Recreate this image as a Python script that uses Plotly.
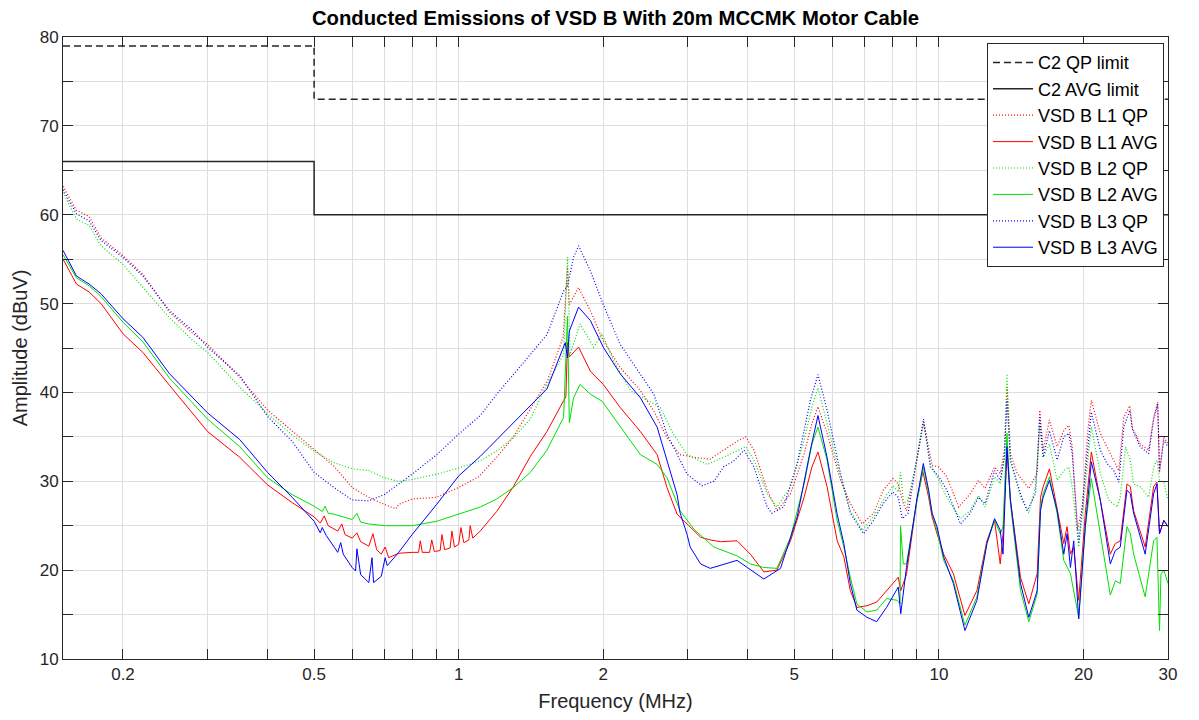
import plotly.graph_objects as go

# ---------------- data (MHz, dBuV) ----------------
qp_limit_f = [0.15, 0.5, 0.5, 30]
qp_limit_db = [79, 79, 73, 73]
avg_limit_f = [0.15, 0.5, 0.5, 30]
avg_limit_db = [66, 66, 60, 60]

l1_qp_f = [0.15, 0.16, 0.17, 0.18, 0.2, 0.22, 0.25, 0.28, 0.3, 0.35, 0.4, 0.45, 0.5, 0.55, 0.6, 0.65, 0.7, 0.74,
           0.75, 0.8, 0.9, 1.0, 1.1, 1.2, 1.3, 1.41, 1.53, 1.65, 1.685, 1.70, 1.777, 1.88, 2.0, 2.17, 2.39, 2.55,
           2.715, 2.89, 3.09, 3.34, 3.56, 3.80, 3.96, 4.12, 4.39, 4.60, 4.91, 5.24, 5.44, 5.60, 5.85, 6.24, 6.54,
           6.92, 7.31, 7.66, 8.02, 8.23, 8.43, 8.56, 9.0, 9.29, 9.68, 10.0, 10.39, 11.0, 11.62, 12.09, 12.48,
           13.06, 13.42, 13.69, 13.86, 14.09, 14.55, 15.39, 16.02, 16.22, 16.49, 16.99, 17.63, 18.2, 18.64,
           18.95, 19.43, 19.9, 20.4, 20.77, 21.68, 22.39, 23.13, 23.69, 24.27, 24.98, 25.27, 26.26, 27.34,
           28.0, 28.55, 28.8, 29.4, 30]
l1_qp_db = [63.2, 60.5, 59.8, 57.4, 55.4, 53.3, 49.0, 46.6, 45.4, 41.7, 38.0, 35.7, 33.6, 31.7, 29.3, 28.2, 27.4, 26.9,
            27.4, 28.0, 28.2, 29.3, 30.5, 32.7, 35.0, 38.2, 41.3, 46.2, 54.1, 49.9, 51.8, 49.2, 45.8, 42.8, 40.2, 37.9,
            34.9, 33.0, 32.7, 32.5, 33.5, 34.5, 35.0, 33.5, 29.0, 26.7, 28.6, 33.1, 36.5, 38.4, 35.4, 30.1, 27.5,
            25.2, 26.4, 29.0, 30.3, 29.7, 27.5, 26.7, 32.4, 36.7, 31.8, 31.6, 30.5, 27.1, 28.6, 30.1, 29.2,
            31.6, 30.9, 33.5, 40.6, 33.1, 30.9, 29.2, 30.9, 38.0, 33.5, 36.9, 33.9, 35.7, 36.3,
            33.9, 24.5, 27.1, 35.4, 39.1, 35.4, 33.9, 32.4, 31.2, 37.2, 38.5, 36.1, 34.2, 33.5,
            37.2, 38.9, 30.9, 35.0, 34.2]

l1_avg_f = [0.15, 0.16, 0.17, 0.18, 0.2, 0.22, 0.25, 0.28, 0.3, 0.35, 0.4, 0.45, 0.5, 0.515, 0.525, 0.535, 0.56,
            0.571, 0.58, 0.6, 0.614, 0.625, 0.65, 0.663, 0.675, 0.69, 0.703, 0.715, 0.75, 0.8, 0.825, 0.832, 0.84,
            0.87, 0.879, 0.89, 0.915, 0.923, 0.935, 0.96, 0.968, 0.98, 1.0, 1.011, 1.025, 1.05, 1.057, 1.07, 1.109,
            1.2, 1.3, 1.41, 1.527, 1.655, 1.672, 1.685, 1.70, 1.777, 1.88, 2.0, 2.17, 2.39, 2.59, 2.715, 2.85, 2.99,
            3.19, 3.34, 3.51, 3.80, 4.05, 4.32, 4.60, 4.91, 5.24, 5.44, 5.60, 5.85, 6.14, 6.34, 6.54, 6.75, 7.08,
            7.42, 7.78, 8.23, 8.33, 8.56, 9.0, 9.26, 9.52, 9.68, 9.91, 10.23, 10.72, 11.33, 12.0, 12.59, 13.06,
            13.42, 13.60, 13.86, 14.09, 14.79, 15.39, 16.02, 16.28, 16.49, 16.99, 17.63, 18.2, 18.49, 18.79, 19.09,
            19.55, 20.18, 20.77, 21.68, 22.75, 23.3, 23.86, 24.64, 25.04, 25.44, 26.89, 28.0, 28.45, 28.8, 29.4, 30]
l1_avg_db = [55.0, 52.2, 51.3, 50.0, 46.6, 44.5, 40.8, 37.5, 35.6, 32.7, 29.6, 27.6, 26.0, 25.3, 26.1, 25.0, 24.4,
             25.2, 24.0, 23.6, 24.2, 23.2, 22.7, 24.1, 22.3, 21.8, 22.6, 21.4, 21.9, 22.0, 22.0, 23.3, 22.0,
             22.0, 23.4, 22.1, 22.2, 24.0, 22.3, 22.5, 24.4, 22.6, 22.9, 24.8, 23.1, 23.4, 25.0, 23.6, 24.4,
             26.6, 29.4, 32.8, 35.6, 39.1, 39.5, 45.6, 44.0, 45.1, 42.4, 40.9, 38.3, 35.6, 33.0, 29.3, 26.3, 25.2,
             23.7, 23.4, 23.2, 23.3, 21.8, 19.8, 20.0, 23.3, 28.2, 31.6, 33.3, 29.4, 23.3, 21.5, 17.7, 15.8, 16.0,
             16.4, 17.7, 19.2, 17.7, 19.5, 27.9, 31.1, 28.2, 26.0, 24.1, 21.8, 19.6, 14.9, 17.7, 23.3, 25.6,
             20.7, 24.1, 33.5, 27.9, 19.2, 16.2, 19.6, 28.2, 29.4, 31.4, 27.1, 23.0, 24.9, 21.8, 22.6,
             16.6, 26.4, 33.3, 27.9, 21.8, 23.0, 23.3, 29.7, 29.4, 26.7, 22.6, 29.4, 29.9, 24.1, 25.6, 24.9]

l2_qp_f = [0.15, 0.16, 0.17, 0.18, 0.2, 0.22, 0.25, 0.28, 0.3, 0.35, 0.4, 0.45, 0.5, 0.55, 0.6, 0.65, 0.7, 0.75,
           0.8, 0.9, 1.0, 1.109, 1.2, 1.3, 1.41, 1.527, 1.654, 1.685, 1.707, 1.79, 1.91, 1.99, 2.10, 2.28, 2.47,
           2.63, 2.80, 2.99, 3.29, 3.56, 3.96, 4.12, 4.39, 4.60, 4.91, 5.24, 5.44, 5.60, 5.85, 6.24, 6.54, 6.92,
           7.31, 7.66, 8.02, 8.23, 8.32, 8.45, 8.63, 9.0, 9.29, 9.60, 10.0, 10.39, 11.09, 11.62, 12.09, 12.48,
           13.06, 13.42, 13.69, 13.86, 14.09, 14.79, 15.39, 15.89, 16.22, 16.49, 16.99, 17.63, 18.2, 18.64,
           18.95, 19.55, 20.18, 20.77, 21.68, 22.57, 23.5, 23.86, 24.47, 25.04, 25.44, 26.26, 27.34, 28.0,
           28.45, 28.8, 29.4, 30]
l2_qp_db = [62.5, 59.5, 58.8, 56.5, 54.4, 51.8, 48.4, 45.8, 44.5, 40.6, 37.6, 35.2, 33.4, 32.1, 31.4, 31.2, 30.4, 30.0,
            30.2, 30.8, 31.5, 32.3, 33.4, 34.9, 37.0, 40.9, 44.3, 55.2, 44.3, 47.7, 45.1, 46.6, 43.6, 40.2, 39.1,
            38.3, 35.3, 33.0, 31.9, 32.7, 33.9, 32.4, 28.6, 27.1, 29.4, 34.6, 38.4, 40.5, 36.5, 30.5, 26.7, 24.5,
            26.0, 27.9, 29.5, 28.8, 31.0, 27.5, 27.9, 32.5, 36.5, 32.0, 30.1, 28.2, 25.8, 26.7, 28.4, 27.1,
            30.5, 29.7, 32.7, 42.1, 32.4, 28.2, 26.4, 29.4, 36.1, 32.7, 34.2, 30.1, 31.2, 31.6,
            29.4, 22.6, 29.4, 36.1, 30.9, 27.9, 27.1, 28.2, 33.9, 32.4, 29.7, 29.4, 28.2, 31.6,
            32.4, 30.1, 29.9, 27.9]

l2_avg_f = [0.15, 0.16, 0.17, 0.18, 0.2, 0.22, 0.25, 0.28, 0.3, 0.35, 0.4, 0.45, 0.5, 0.52, 0.527, 0.535, 0.55,
            0.6, 0.614, 0.625, 0.65, 0.7, 0.8, 0.9, 1.0, 1.109, 1.2, 1.3, 1.41, 1.527, 1.654, 1.685, 1.70, 1.735,
            1.79, 1.88, 1.99, 2.17, 2.39, 2.59, 2.715, 2.89, 3.09, 3.40, 3.80, 4.05, 4.32, 4.60, 4.91, 5.24, 5.44,
            5.60, 5.85, 6.14, 6.34, 6.54, 6.75, 7.08, 7.42, 7.78, 8.2, 8.30, 8.32, 8.43, 8.56, 9.0, 9.29, 9.52,
            9.68, 9.91, 10.23, 10.72, 11.33, 12.0, 12.59, 13.06, 13.42, 13.60, 13.86, 14.09, 14.79, 15.39, 16.02,
            16.28, 16.49, 16.99, 17.63, 18.2, 18.79, 19.55, 20.18, 20.77, 21.68, 22.75, 23.3, 23.86, 24.64, 25.04,
            25.44, 26.89, 28.0, 28.45, 28.8, 29.0, 29.4, 30]
l2_avg_db = [55.5, 52.9, 52.0, 50.8, 47.9, 45.7, 41.6, 38.7, 37.0, 33.9, 30.4, 28.5, 27.2, 26.6, 27.2, 26.4, 26.3,
             25.7, 26.4, 25.4, 25.2, 25.0, 25.0, 25.5, 26.3, 27.1, 28.0, 29.3, 31.0, 33.5, 37.2, 48.6, 36.6, 39.4,
             40.9, 39.8, 39.0, 36.1, 33.0, 31.9, 30.4, 26.7, 24.6, 22.6, 21.6, 20.7, 20.3, 20.2, 23.7, 29.7, 34.2,
             36.1, 32.4, 25.6, 22.6, 19.2, 16.2, 15.3, 15.5, 16.8, 16.6, 16.2, 25.0, 20.7, 20.7, 27.7, 31.6, 28.6,
             26.4, 24.5, 21.1, 18.8, 13.8, 17.0, 23.0, 25.6, 24.1, 24.9, 35.4, 27.5, 17.7, 14.2, 17.3,
             27.1, 28.6, 30.5, 26.4, 21.1, 19.6, 14.7, 24.9, 30.3, 24.1, 17.2, 18.8, 18.5, 24.9, 24.1,
             21.8, 17.0, 23.3, 23.7, 13.2, 19.5, 20.0, 18.5]

l3_qp_f = [0.15, 0.16, 0.17, 0.18, 0.2, 0.22, 0.25, 0.28, 0.3, 0.35, 0.4, 0.45, 0.5, 0.55, 0.6, 0.65, 0.7, 0.75,
           0.8, 0.9, 1.0, 1.109, 1.2, 1.3, 1.41, 1.527, 1.654, 1.685, 1.735, 1.777, 1.88, 2.0, 2.17, 2.39, 2.55,
           2.715, 2.85, 2.99, 3.21, 3.40, 3.56, 3.74, 3.93, 4.12, 4.39, 4.49, 4.75, 5.07, 5.40, 5.60, 5.85, 6.24,
           6.54, 6.97, 7.31, 7.66, 8.02, 8.23, 8.39, 8.63, 9.0, 9.29, 9.60, 10.0, 10.39, 11.09, 11.62, 12.09,
           12.48, 13.06, 13.42, 13.69, 13.86, 14.09, 14.79, 15.27, 15.89, 16.22, 16.49, 16.99, 17.63, 18.2,
           18.64, 18.95, 19.55, 20.18, 20.77, 21.68, 22.39, 23.13, 23.69, 24.27, 24.98, 25.27, 26.26, 27.34,
           28.0, 28.55, 28.8, 29.4, 30]
l3_qp_db = [62.8, 60.1, 59.3, 57.1, 55.2, 53.1, 49.2, 46.9, 45.1, 41.9, 37.3, 34.5, 31.0, 29.3, 27.9, 27.8, 28.5, 29.7,
            30.8, 33.0, 35.3, 37.4, 39.8, 42.0, 44.3, 46.5, 51.4, 52.0, 55.2, 56.5, 53.7, 49.9, 45.4, 42.1, 39.8,
            35.3, 33.0, 30.8, 29.5, 30.0, 31.6, 32.3, 33.5, 31.6, 27.1, 26.4, 27.1, 32.0, 39.1, 42.0, 38.0, 30.9,
            26.4, 24.1, 25.6, 27.5, 28.8, 28.2, 25.8, 26.4, 32.6, 37.0, 31.6, 30.5, 29.0, 25.2, 26.4, 28.2,
            27.5, 31.2, 30.1, 32.7, 39.1, 32.4, 28.6, 26.7, 28.6, 37.2, 32.7, 35.7, 32.4, 35.0,
            35.4, 33.1, 23.0, 30.9, 37.8, 33.5, 32.0, 31.2, 29.9, 36.1, 38.0, 35.9, 33.9, 33.1,
            36.9, 38.7, 31.2, 34.6, 33.9]

l3_avg_f = [0.15, 0.16, 0.17, 0.18, 0.2, 0.22, 0.25, 0.28, 0.3, 0.35, 0.4, 0.45, 0.5, 0.515, 0.52, 0.53, 0.56,
            0.568, 0.575, 0.6, 0.61, 0.614, 0.625, 0.65, 0.66, 0.665, 0.69, 0.703, 0.71, 0.75, 0.8, 0.9, 1.0,
            1.109, 1.3, 1.41, 1.527, 1.667, 1.685, 1.70, 1.777, 1.88, 2.0, 2.17, 2.39, 2.59, 2.715, 2.85, 2.89,
            2.99, 3.035, 3.19, 3.34, 3.80, 3.99, 4.32, 4.68, 5.07, 5.40, 5.60, 5.85, 6.14, 6.34, 6.54, 6.75, 7.08,
            7.42, 7.78, 8.23, 8.33, 8.56, 9.0, 9.28, 9.52, 9.68, 9.91, 10.23, 10.72, 11.33, 12.0, 12.59, 13.06,
            13.42, 13.60, 13.86, 14.09, 14.79, 15.39, 16.02, 16.28, 16.49, 16.99, 17.63, 18.2, 18.49, 18.79,
            19.09, 19.55, 20.18, 20.77, 21.68, 22.75, 23.3, 23.86, 24.64, 25.04, 25.44, 26.89, 28.0, 28.45,
            28.8, 29.4, 30]
l3_avg_db = [56.0, 53.1, 52.2, 51.1, 48.3, 46.2, 42.1, 39.3, 37.7, 34.7, 31.0, 28.2, 25.5, 24.2, 24.8, 23.9, 22.0,
             23.1, 21.8, 20.3, 19.9, 22.4, 19.5, 18.6, 21.4, 18.6, 19.3, 21.4, 20.5, 22.0, 24.0, 27.4, 30.6,
             32.8, 36.6, 38.6, 40.4, 45.6, 43.9, 46.9, 49.6, 48.1, 45.1, 42.1, 39.4, 36.1, 32.3, 28.5, 26.5,
             24.0, 22.6, 20.7, 20.2, 21.1, 20.3, 19.0, 20.2, 26.0, 33.5, 37.4, 32.7, 26.3, 23.0, 18.5, 15.5, 14.7,
             14.2, 15.8, 18.1, 15.1, 20.3, 28.0, 32.0, 29.0, 26.4, 24.9, 21.5, 18.5, 13.2, 16.6, 23.0, 25.8,
             24.5, 21.8, 33.9, 27.9, 18.5, 14.7, 17.7, 26.7, 28.2, 30.1, 26.7, 21.8, 24.1, 20.3,
             23.3, 14.5, 24.9, 32.2, 27.9, 20.7, 22.2, 22.6, 29.0, 28.6, 26.4, 21.8, 28.6, 29.7,
             24.1, 25.6, 24.9]

x_tick_vals = [0.2, 0.3, 0.4, 0.5, 0.6, 0.7, 0.8, 0.9, 1, 2, 3, 4, 5, 6, 7, 8, 9, 10, 20, 30]
x_tick_text = ['0.2', '', '', '0.5', '', '', '', '', '1', '2', '', '', '5', '', '', '', '', '10', '20', '30']
y_tick_vals = [10, 15, 20, 25, 30, 35, 40, 45, 50, 55, 60, 65, 70, 75, 80]
y_tick_text = ['10', '', '20', '', '30', '', '40', '', '50', '', '60', '', '70', '', '80']

# ---------------- figure ----------------
DOT = "1px,2px"
series = [
    ("C2 QP limit", qp_limit_f, qp_limit_db, "#262626", "7px,4px", 1.5),
    ("C2 AVG limit", avg_limit_f, avg_limit_db, "#262626", "solid", 1.5),
    ("VSD B L1 QP", l1_qp_f, l1_qp_db, "#ff0000", DOT, 1.2),
    ("VSD B L1 AVG", l1_avg_f, l1_avg_db, "#ff0000", "solid", 1),
    ("VSD B L2 QP", l2_qp_f, l2_qp_db, "#00e000", DOT, 1.2),
    ("VSD B L2 AVG", l2_avg_f, l2_avg_db, "#00e000", "solid", 1),
    ("VSD B L3 QP", l3_qp_f, l3_qp_db, "#0000ff", DOT, 1.2),
    ("VSD B L3 AVG", l3_avg_f, l3_avg_db, "#0000ff", "solid", 1),
]

fig = go.Figure()
for name, f, v, col, dash, w in series:
    fig.add_trace(go.Scatter(x=f, y=v, mode="lines", name=name,
                             line=dict(color=col, dash=dash, width=w)))

FONT = "Liberation Sans, Arial, sans-serif"
axis_common = dict(showline=True, linecolor="#262626", linewidth=1, mirror="ticks",
                   ticks="inside", ticklen=10, tickwidth=1, tickcolor="#262626",
                   showgrid=True, gridcolor="#dedede", gridwidth=1, zeroline=False,
                   tickfont=dict(family=FONT, size=17, color="#262626"))

# page body has an 8px margin: figure sized/offset so the plot lands where the reference has it
FIG_W, FIG_H = 1183, 704
fig.update_layout(
    width=FIG_W, height=FIG_H,
    margin=dict(l=55, r=23, t=29, b=53, autoexpand=False),
    paper_bgcolor="white", plot_bgcolor="white",
    font=dict(family=FONT, color="#262626"),
    title=dict(text="<b>Conducted Emissions of VSD B With 20m MCCMK Motor Cable</b>",
               x=0.5, xref="paper", xanchor="center", y=1 - 10 / FIG_H, yref="container",
               yanchor="middle", font=dict(family=FONT, size=20.3, color="black")),
    xaxis=dict(type="log", range=[-0.8239, 1.4771], tickmode="array",
               tickvals=x_tick_vals, ticktext=x_tick_text,
               title=dict(text="Frequency (MHz)", standoff=15,
                          font=dict(family=FONT, size=20, color="#262626")),
               **axis_common),
    yaxis=dict(range=[10, 80], tickmode="array", tickvals=y_tick_vals, ticktext=y_tick_text,
               title=dict(text="Amplitude (dBuV)", standoff=6,
                          font=dict(family=FONT, size=20, color="#262626")),
               **axis_common),
    legend=dict(x=0.9964, y=0.99, xanchor="right", yanchor="top",
                bgcolor="white", bordercolor="#262626", borderwidth=1,
                font=dict(family=FONT, size=18, color="black"),
                tracegroupgap=0, itemwidth=40),
    showlegend=True,
)

fig.write_html("out.html")
